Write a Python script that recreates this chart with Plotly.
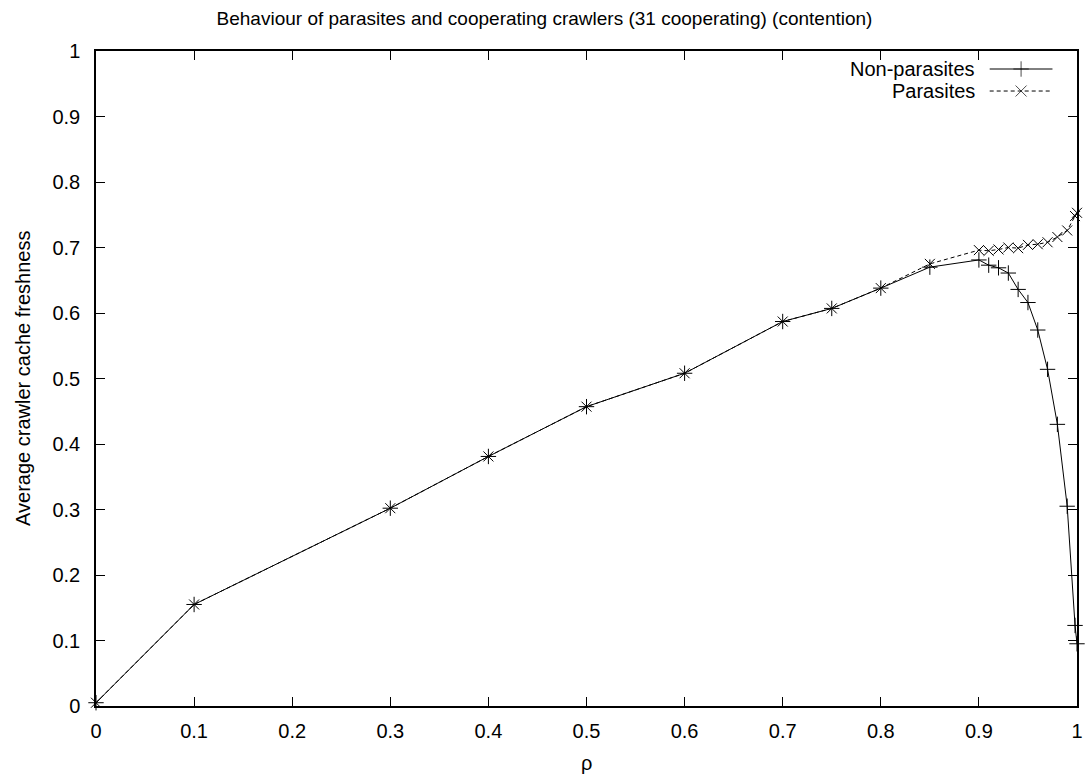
import plotly.graph_objects as go

rho = [0.0, 0.1, 0.3, 0.4, 0.5, 0.6, 0.7, 0.75, 0.8, 0.85,
       0.9, 0.91, 0.92, 0.93, 0.94, 0.95, 0.96, 0.97, 0.98, 0.99, 0.998, 1.0]
non_parasites = [0.005, 0.155, 0.302, 0.381, 0.457, 0.508, 0.587, 0.607, 0.638, 0.670,
                 0.681, 0.673, 0.669, 0.661, 0.636, 0.616, 0.574, 0.514, 0.430, 0.305, 0.123, 0.095]
parasites = [0.005, 0.155, 0.302, 0.381, 0.457, 0.508, 0.587, 0.607, 0.638, 0.675,
             0.696, 0.695, 0.697, 0.700, 0.699, 0.704, 0.705, 0.708, 0.716, 0.726, 0.748, 0.753]

x_ticks = [0, 0.1, 0.2, 0.3, 0.4, 0.5, 0.6, 0.7, 0.8, 0.9, 1]
y_ticks = [0, 0.1, 0.2, 0.3, 0.4, 0.5, 0.6, 0.7, 0.8, 0.9, 1]
tick_text = ["0", "0.1", "0.2", "0.3", "0.4", "0.5", "0.6", "0.7", "0.8", "0.9", "1"]

FONT = "Liberation Sans, Arial, sans-serif"
FS = 20

fig = go.Figure()
fig.add_trace(go.Scatter(
    x=rho, y=non_parasites, mode="lines+markers", name="Non-parasites",
    line=dict(color="black", width=1),
    marker=dict(symbol="cross-thin-open", size=11, line=dict(color="black", width=1)),
    showlegend=False, cliponaxis=False))
fig.add_trace(go.Scatter(
    x=rho, y=parasites, mode="lines+markers", name="Parasites",
    line=dict(color="black", width=1, dash="4px,3px"),
    marker=dict(symbol="x-thin-open", size=10, line=dict(color="black", width=1)),
    showlegend=False, cliponaxis=False))

# custom gnuplot-style legend (sample to the right of the text)
legend_names = ["Non-parasites", "Parasites"]
legend_y = [0.9725, 0.9389]
legend_dash = ["solid", "4px,3px"]
legend_sym = ["cross-thin-open", "x-thin-open"]
for name, ly, dsh, sym in zip(legend_names, legend_y, legend_dash, legend_sym):
    fig.add_trace(go.Scatter(
        x=[0.911, 0.943, 0.975], y=[ly, ly, ly], mode="lines+markers",
        xaxis="x2", yaxis="y2", showlegend=False, hoverinfo="skip",
        line=dict(color="black", width=1, dash=dsh),
        marker=dict(symbol=sym, size=[0, 11, 0], line=dict(color="black", width=1))))
    fig.add_annotation(x=0.8976, y=ly, xref="paper", yref="paper", text=name,
                       showarrow=False, xanchor="right", yanchor="middle",
                       font=dict(family=FONT, size=FS, color="black"))

# axis titles
fig.add_annotation(x=-0.075, y=0.5, xref="paper", yref="paper",
                   text="Average crawler cache freshness", textangle=-90,
                   showarrow=False, xanchor="center", yanchor="middle",
                   font=dict(family=FONT, size=FS, color="black"))
fig.add_annotation(x=0.5, y=-0.087, xref="paper", yref="paper", text="ρ",
                   showarrow=False, xanchor="center", yanchor="middle",
                   font=dict(family=FONT, size=FS, color="black"))

axis_common = dict(
    showgrid=False, zeroline=False, showline=True, linecolor="black", linewidth=1.5,
    mirror="allticks", ticks="inside", ticklen=9, tickwidth=1.3, tickcolor="black",
    tickfont=dict(family=FONT, size=FS, color="black"))

fig.update_layout(
    width=1089, height=778,
    margin=dict(l=96, r=6, t=51, b=72),
    paper_bgcolor="white", plot_bgcolor="white",
    title=dict(text="Behaviour of parasites and cooperating crawlers (31 cooperating) (contention)",
               x=0.5, xref="container", xanchor="center", y=0.976, yanchor="middle",
               font=dict(family=FONT, size=FS - 1, color="black")),
    xaxis=dict(range=[0, 1], tickvals=x_ticks, ticktext=tick_text, ticklabelstandoff=6,
               **axis_common),
    yaxis=dict(range=[0, 1], tickvals=y_ticks, ticktext=tick_text, ticklabelstandoff=10,
               **axis_common),
    xaxis2=dict(range=[0, 1], overlaying="x", visible=False, fixedrange=True),
    yaxis2=dict(range=[0, 1], overlaying="y", visible=False, fixedrange=True),
    showlegend=False,
)

fig.write_html("out.html")
